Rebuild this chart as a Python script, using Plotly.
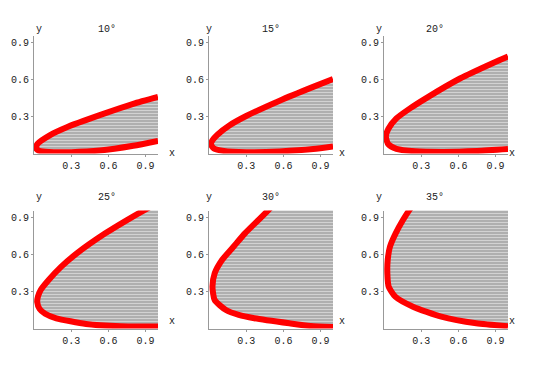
import plotly.graph_objects as go

# panel titles
ANGLES = ["10°", "15°", "20°", "25°", "30°", "35°"]

# red boundary curves (lower branch -> vertex -> upper branch)
CURVE_X_10 = [1.0, 0.8, 0.53, 0.3, 0.12, 0.04, 0.015, 0.03, 0.13, 0.26, 0.53, 0.8, 1.0]
CURVE_Y_10 = [0.103, 0.063, 0.024, 0.011, 0.012, 0.022, 0.045, 0.08, 0.15, 0.212, 0.312, 0.404, 0.46]

CURVE_X_15 = [1.0, 0.84, 0.57, 0.30, 0.12, 0.04, 0.015, 0.03, 0.07, 0.167, 0.30, 0.57, 0.84, 1.0]
CURVE_Y_15 = [0.058, 0.036, 0.017, 0.011, 0.02, 0.04, 0.075, 0.11, 0.155, 0.23, 0.305, 0.43, 0.542, 0.605]

CURVE_X_20 = [1.0, 0.75, 0.48, 0.25, 0.1, 0.035, 0.015, 0.035, 0.1, 0.21, 0.344, 0.613, 0.88, 1.0]
CURVE_Y_20 = [0.036, 0.02, 0.013, 0.018, 0.038, 0.075, 0.135, 0.2, 0.285, 0.367, 0.453, 0.61, 0.737, 0.79]

CURVE_X_25 = [1.0, 0.7, 0.42, 0.18, 0.09, 0.045, 0.026, 0.032, 0.054, 0.118, 0.22, 0.345, 0.575, 0.75, 0.89, 0.93]
CURVE_Y_25 = [0.016, 0.018, 0.037, 0.083, 0.12, 0.16, 0.215, 0.26, 0.313, 0.394, 0.503, 0.611, 0.774, 0.882, 0.963, 0.985]

CURVE_X_30 = [1.0, 0.82, 0.648, 0.366, 0.24, 0.137, 0.046, 0.028, 0.046, 0.105, 0.197, 0.29, 0.398, 0.479, 0.5]
CURVE_Y_30 = [0.012, 0.02, 0.042, 0.083, 0.11, 0.15, 0.232, 0.34, 0.449, 0.557, 0.665, 0.774, 0.882, 0.963, 0.985]

CURVE_X_35 = [1.0, 0.744, 0.462, 0.234, 0.091, 0.038, 0.027, 0.03, 0.048, 0.094, 0.153, 0.204, 0.22]
CURVE_Y_35 = [0.018, 0.042, 0.096, 0.177, 0.259, 0.34, 0.449, 0.557, 0.665, 0.774, 0.882, 0.963, 0.985]

CURVES_X = [CURVE_X_10, CURVE_X_15, CURVE_X_20, CURVE_X_25, CURVE_X_30, CURVE_X_35]
CURVES_Y = [CURVE_Y_10, CURVE_Y_15, CURVE_Y_20, CURVE_Y_25, CURVE_Y_30, CURVE_Y_35]

TICKS = [0.3, 0.6, 0.9]
TICK_TEXT = ["0.3", "0.6", "0.9"]

# the page body adds an 8px margin, so the figure is laid out 8px smaller
OFF = 8
W, H = 542 - OFF, 368 - OFF
X_MAX, Y_MAX = 1.0, 0.96
COL_LEFT = [34 - OFF, 209 - OFF, 384 - OFF]     # px of x=0 per column
ROW_BOTTOM = [153.5 - OFF, 328.5 - OFF]         # px of y=0 per row
PW, PH = 124, 118
FONT = "Liberation Mono"

fig = go.Figure()
annotations = []

for i, label in enumerate(ANGLES):
    r, c = divmod(i, 3)
    n = i + 1
    xa = "x" if n == 1 else f"x{n}"
    ya = "y" if n == 1 else f"y{n}"
    cx, cy = CURVES_X[i], CURVES_Y[i]

    # hatched region between curve and right edge
    fig.add_trace(go.Scatter(
        x=cx + [X_MAX], y=cy + [cy[-1]],
        fill="toself", mode="none", fillcolor="white",
        fillpattern=dict(shape="-", size=3, solidity=0.6, fgcolor="#1a1a1a", bgcolor="white"),
        xaxis=xa, yaxis=ya, hoverinfo="skip",
    ))
    fig.add_trace(go.Scatter(
        x=cx, y=cy, mode="lines",
        line=dict(color="#ff0000", width=6, shape="spline", smoothing=0.6),
        xaxis=xa, yaxis=ya, hoverinfo="skip",
    ))

    left, bottom = COL_LEFT[c], ROW_BOTTOM[r]
    axis_common = dict(
        tickvals=TICKS, ticktext=TICK_TEXT, ticks="outside", ticklen=2,
        tickcolor="#999", showline=True, linecolor="#999", linewidth=1,
        showgrid=False, zeroline=False, layer="below traces", fixedrange=True,
        tickfont=dict(family=FONT, size=10, color="#222"),
    )
    fig.layout[xa.replace("x", "xaxis")] = dict(
        domain=[left / W, (left + PW) / W], range=[0, X_MAX], anchor=ya, **axis_common)
    fig.layout[ya.replace("y", "yaxis")] = dict(
        domain=[1 - bottom / H, 1 - (bottom - PH) / H], range=[0, Y_MAX], anchor=xa, **axis_common)

    ty = 1 - (bottom - 131) / H
    annotations.append(dict(text=label, x=(left + PW / 2) / W, y=ty, xref="paper", yref="paper",
                            showarrow=False, font=dict(family=FONT, size=10, color="#222")))
    annotations.append(dict(text="y", x=left / W, y=ty, xref="paper", yref="paper",
                            showarrow=False, font=dict(family=FONT, size=10, color="#222")))
    annotations.append(dict(text="x", x=(left + 133) / W, y=1 - bottom / H, xref="paper", yref="paper",
                            showarrow=False, font=dict(family=FONT, size=10, color="#222")))

fig.update_layout(
    width=W, height=H, margin=dict(l=0, r=0, t=0, b=0),
    showlegend=False, plot_bgcolor="white", paper_bgcolor="white",
    annotations=annotations,
)
fig.write_html("out.html")
